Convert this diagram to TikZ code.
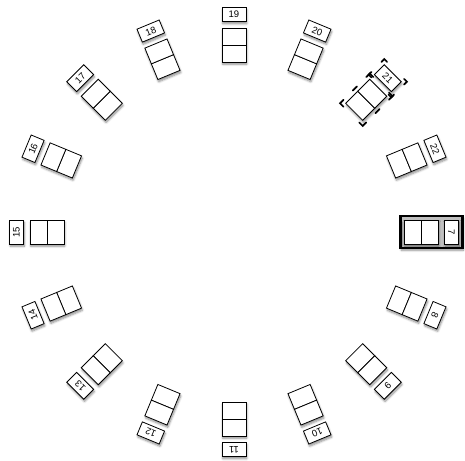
\documentclass[tikz,border=0pt]{standalone}
\usepackage{fontspec}
\setmainfont{Liberation Sans}
\usetikzlibrary{shadows,shadows.blur,calc}

\tikzset{
  soft/.style={blur shadow={shadow xshift=0.8pt,shadow yshift=-2.2pt,
      shadow blur steps=6,shadow opacity=45}},
  block/.style={fill=white,inner sep=0pt,
      minimum width=24pt,minimum height=34pt,soft},
  seat/.style={draw,fill=white,line width=0.8pt,inner sep=0pt,
      minimum width=24pt,minimum height=17pt},
  tag/.style={draw,fill=white,line width=0.8pt,inner sep=0pt,
      minimum width=24pt,minimum height=14pt,soft,
      font=\fontsize{9.5}{10}\selectfont},
  pick/.style={line width=1.6pt,line cap=round},
}

\begin{document}
\begin{tikzpicture}[x=1pt,y=1pt]
  \useasboundingbox (-234,-228) rectangle (231,232);
  %% highlighted table
  \node[draw,fill=black!25,line width=2.6pt,inner sep=0pt,rotate=-90,
        minimum width=32pt,minimum height=62pt,soft]
        (frame7) at (0:197.5) {};
  %% tables round the circle
  \foreach \n [count=\i from 0] in {7,...,22} {
    \pgfmathsetmacro\ang{-22.5*\i}
    \pgfmathsetmacro\tilt{\ang-90}
    \node[block,rotate=\tilt] (block\n) at (\ang:187) {};
    \node[seat,rotate=\tilt] (in\n)  at (\ang:178.5) {};
    \node[seat,rotate=\tilt] (out\n) at (\ang:195.5) {};
    \node[tag,rotate=\tilt]  (tag\n) at (\ang:217.5) {\n};
  }
  %% selection handles on 21
  \begin{scope}[shift={(45:187)},rotate=-45]
    \foreach \sx in {-1,1} \foreach \sy in {-1,1} {
      \draw[pick] (\sx*16,\sy*16) -- (\sx*16,\sy*21) -- (\sx*11,\sy*21);
    }
    \foreach \sx in {-1,1}
      \draw[pick] (\sx*16,-3) -- (\sx*16,3);
  \end{scope}
  \begin{scope}[shift={(45:217.5)},rotate=-45]
    \foreach \sx in {-1,1} \foreach \sy in {-1,1} {
      \draw[pick] (\sx*16,\sy*7) -- (\sx*16,\sy*11) -- (\sx*12,\sy*11);
    }
  \end{scope}
\end{tikzpicture}
\end{document}
